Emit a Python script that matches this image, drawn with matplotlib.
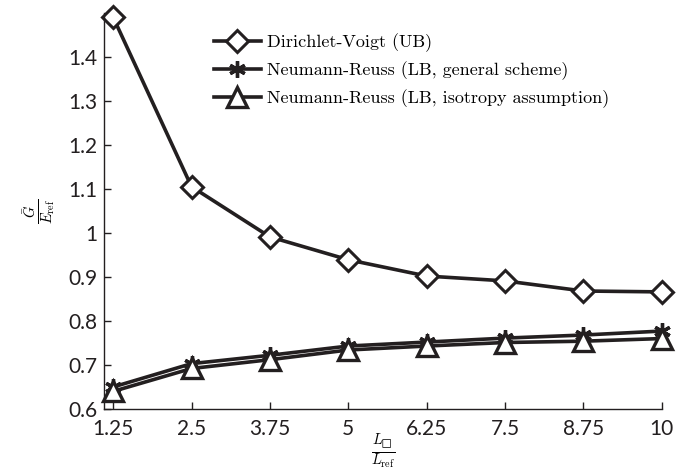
import matplotlib
matplotlib.use("Agg")
import matplotlib.pyplot as plt

plt.rcParams["mathtext.fontset"] = "cm"
plt.rcParams["font.family"] = ["Lato", "DejaVu Sans"]

# Normalised element size L_box / L_ref
ratio = [1.25, 2.5, 3.75, 5, 6.25, 7.5, 8.75, 10]

# Effective shear modulus bounds G / E_ref
voigt_ub = [1.49, 1.105, 0.991, 0.939, 0.902, 0.891, 0.868, 0.866]
reuss_lb_general = [0.650, 0.703, 0.722, 0.743, 0.752, 0.761, 0.768, 0.777]
reuss_lb_iso = [0.640, 0.692, 0.712, 0.734, 0.743, 0.751, 0.754, 0.760]

labels = [
    "Dirichlet-Voigt (UB)",
    "Neumann-Reuss (LB, general scheme)",
    "Neumann-Reuss (LB, isotropy assumption)",
]

ink = "#231f20"

fig = plt.figure(figsize=(6.9, 4.75), dpi=100)
ax = fig.add_axes([0.151, 0.139, 0.808, 0.834])

ax.plot(ratio, voigt_ub, color=ink, lw=2.6, marker="D", ms=11.5,
        mfc="white", mec=ink, mew=2.2, label=labels[0], clip_on=False)
ax.plot(ratio, reuss_lb_general, color=ink, lw=2.6, marker=(6, 2, 0),
        ms=12, mec=ink, mew=2.4, label=labels[1], clip_on=False)
ax.plot(ratio, reuss_lb_iso, color=ink, lw=2.6, marker="^", ms=14,
        mfc="white", mec=ink, mew=2.4, label=labels[2], clip_on=False)

ax.set_xlim(1.107, 10)
ax.set_ylim(0.6, 1.5)
ax.set_xticks(ratio)
ax.set_xticklabels(["1.25", "2.5", "3.75", "5", "6.25", "7.5", "8.75", "10"])
ax.set_yticks([0.6, 0.7, 0.8, 0.9, 1.0, 1.1, 1.2, 1.3, 1.4])
ax.set_yticklabels(["0.6", "0.7", "0.8", "0.9", "1", "1.1", "1.2", "1.3", "1.4"])
ax.tick_params(direction="in", length=5, width=1, labelsize=15,
               colors=ink)
ax.tick_params(axis="x", pad=7)
ax.tick_params(axis="y", pad=5)

for side in ["top", "right"]:
    ax.spines[side].set_visible(False)
for side in ["left", "bottom"]:
    ax.spines[side].set_color(ink)
    ax.spines[side].set_linewidth(1)

ax.set_xlabel("$\\frac{L_{\u25a1}}{L_{\\mathrm{ref}}}$", fontsize=15,
              labelpad=-5)
ax.set_ylabel(r"$\frac{\bar{G}}{E_{\mathrm{ref}}}$", fontsize=15,
              labelpad=8)

ax.legend(loc="upper left", bbox_to_anchor=(0.174, 0.98), frameon=False,
          prop={"family": "cmr10", "size": 13}, handlelength=2.6,
          handletextpad=0.33, labelspacing=0.52, borderaxespad=0.3)

fig.savefig("out.png", dpi=100)
